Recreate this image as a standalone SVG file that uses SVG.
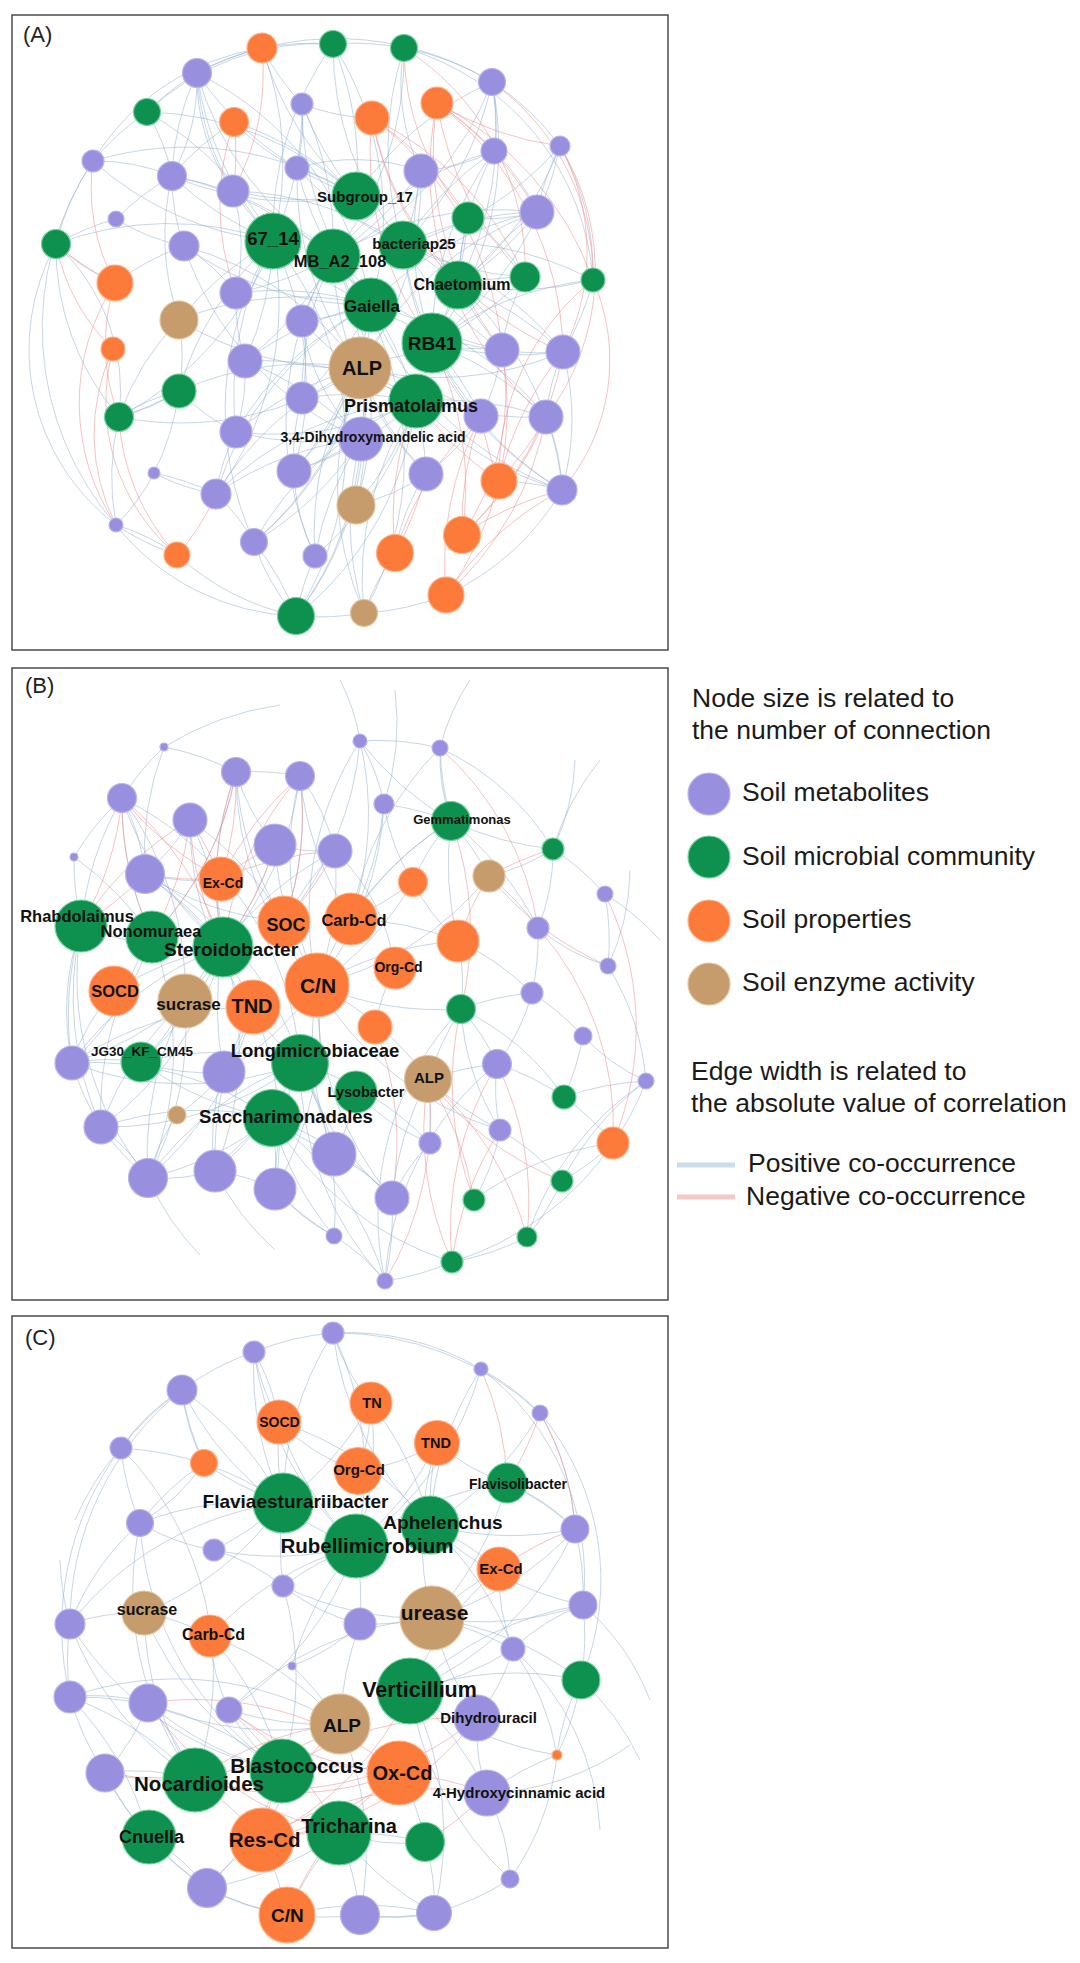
<svg xmlns="http://www.w3.org/2000/svg" width="1080" height="1963" viewBox="0 0 1080 1963">
<style>
.frame{fill:#fff;stroke:#555;stroke-width:1.6}
.plab{font-family:"Liberation Sans",Arial,sans-serif;font-size:22px;fill:#222}
.pos path,.pos{fill:none;stroke:#8eaecb;stroke-opacity:.5;stroke-width:1}
.neg path,.neg{fill:none;stroke:#ec8f8f;stroke-opacity:.55;stroke-width:1}
.m{fill:#9890de;stroke:#b9b3ee;stroke-width:1.2}
.g{fill:#0e914f;stroke:#72d39c;stroke-width:1.2}
.o{fill:#fc7a3a;stroke:#ffb088;stroke-width:1.2}
.t{fill:#c69c6c;stroke:#e2c39d;stroke-width:1.2}
.nodes text{font-family:"Liberation Sans",Arial,sans-serif;font-weight:bold;fill:#111;text-anchor:middle}
.leg{font-family:"Liberation Sans",Arial,sans-serif;font-size:26.5px;fill:#1a1a1a}
</style>
<rect width="1080" height="1963" fill="#fff"/>

<!-- ================= PANEL A ================= -->
<g id="panelA">
<rect class="frame" x="12" y="15" width="656" height="635"/>
<text class="plab" x="23" y="42">(A)</text>
<g id="edgesA">
<path class="pos" d="M273 241A320 320 0 0 1 197 73M273 241A320 320 0 0 0 147 112M273 241A320 320 0 0 1 93 161M273 241A320 320 0 0 0 56 244M273 241A320 320 0 0 1 172 176M273 241A320 320 0 0 0 179 320M273 241A320 320 0 0 1 245 361M273 241A320 320 0 0 0 179 391M273 241A320 320 0 0 1 119 417M273 241A320 320 0 0 0 236 432M273 241A320 320 0 0 1 294 471M273 241A320 320 0 0 0 254 542M273 241A320 320 0 0 1 296 616M273 241A320 320 0 0 0 262 48M273 241A320 320 0 0 1 333 44M273 241A320 320 0 0 0 302 104M273 241A320 320 0 0 1 216 494"/>
<path class="pos" d="M333 256A320 320 0 0 0 302 104M333 256A320 320 0 0 1 297 168M333 256A320 320 0 0 0 421 171M333 256A320 320 0 0 1 494 151M333 256A320 320 0 0 0 492 82M333 256A320 320 0 0 1 236 293M333 256A320 320 0 0 0 302 321M333 256A320 320 0 0 1 245 361M333 256A320 320 0 0 0 302 398M333 256A320 320 0 0 1 361 439M333 256A320 320 0 0 0 426 474M333 256A320 320 0 0 1 356 505M333 256A320 320 0 0 0 315 556M333 256A320 320 0 0 1 364 613M333 256A320 320 0 0 0 172 176M333 256A320 320 0 0 1 197 73M333 256A320 320 0 0 0 404 48M333 256A320 320 0 0 1 537 212M333 256A320 320 0 0 0 502 350"/>
<path class="pos" d="M403 245A320 320 0 0 1 404 48M403 245A320 320 0 0 0 492 82M403 245A320 320 0 0 1 494 151M403 245A320 320 0 0 0 560 146M403 245A320 320 0 0 1 537 212M403 245A320 320 0 0 0 525 277M403 245A320 320 0 0 1 593 280M403 245A320 320 0 0 0 502 350M403 245A320 320 0 0 1 563 352M403 245A320 320 0 0 0 481 416M403 245A320 320 0 0 1 546 417M403 245A320 320 0 0 0 421 171M403 245A320 320 0 0 1 297 168M403 245A320 320 0 0 0 233 191M403 245A320 320 0 0 1 333 44M403 245A320 320 0 0 0 562 490"/>
<path class="pos" d="M371 305A320 320 0 0 1 233 191M371 305A320 320 0 0 0 236 293M371 305A320 320 0 0 1 302 321M371 305A320 320 0 0 0 245 361M371 305A320 320 0 0 1 302 398M371 305A320 320 0 0 0 236 432M371 305A320 320 0 0 1 294 471M371 305A320 320 0 0 0 172 176M371 305A320 320 0 0 1 184 246M371 305A320 320 0 0 0 197 73M371 305A320 320 0 0 1 302 104M371 305A320 320 0 0 0 333 44M371 305A320 320 0 0 1 537 212M371 305A320 320 0 0 0 563 352M371 305A320 320 0 0 1 546 417M371 305A320 320 0 0 0 562 490M371 305A320 320 0 0 1 426 474M371 305A320 320 0 0 0 216 494M371 305A320 320 0 0 1 254 542M371 305A320 320 0 0 0 179 320"/>
<path class="pos" d="M360 368A320 320 0 0 0 184 246M360 368A320 320 0 0 1 179 320M360 368A320 320 0 0 0 179 391M360 368A320 320 0 0 1 119 417M360 368A320 320 0 0 0 236 432M360 368A320 320 0 0 1 294 471M360 368A320 320 0 0 0 216 494M360 368A320 320 0 0 1 254 542M360 368A320 320 0 0 0 315 556M360 368A320 320 0 0 1 296 616M360 368A320 320 0 0 0 364 613M360 368A320 320 0 0 1 356 505M360 368A320 320 0 0 0 426 474M360 368A320 320 0 0 1 481 416M360 368A320 320 0 0 0 546 417M360 368A320 320 0 0 1 502 350M360 368A320 320 0 0 0 563 352M360 368A320 320 0 0 1 537 212M360 368A320 320 0 0 0 421 171M360 368A320 320 0 0 1 297 168"/>
<path class="pos" d="M432 343A320 320 0 0 1 494 151M432 343A320 320 0 0 0 560 146M432 343A320 320 0 0 1 537 212M432 343A320 320 0 0 0 525 277M432 343A320 320 0 0 1 593 280M432 343A320 320 0 0 0 563 352M432 343A320 320 0 0 1 546 417M432 343A320 320 0 0 0 562 490M432 343A320 320 0 0 1 481 416M432 343A320 320 0 0 0 492 82M432 343A320 320 0 0 1 421 171M432 343A320 320 0 0 0 468 218"/>
<path class="pos" d="M416 401A320 320 0 0 1 302 321M416 401A320 320 0 0 0 302 398M416 401A320 320 0 0 1 294 471M416 401A320 320 0 0 0 216 494M416 401A320 320 0 0 1 315 556M416 401A320 320 0 0 0 254 542M416 401A320 320 0 0 1 296 616M416 401A320 320 0 0 0 364 613M416 401A320 320 0 0 1 356 505M416 401A320 320 0 0 0 245 361M416 401A320 320 0 0 1 236 432M416 401A320 320 0 0 0 562 490M416 401A320 320 0 0 1 546 417"/>
<path class="pos" d="M356 196A320 320 0 0 1 262 48M356 196A320 320 0 0 0 333 44M356 196A320 320 0 0 1 197 73M356 196A320 320 0 0 0 234 122M356 196A320 320 0 0 1 302 104M356 196A320 320 0 0 0 93 161M356 196A320 320 0 0 1 172 176M356 196A320 320 0 0 0 297 168M356 196A320 320 0 0 1 233 191M356 196A320 320 0 0 0 147 112M356 196A320 320 0 0 1 492 82"/>
<path class="pos" d="M458 285A320 320 0 0 0 492 82M458 285A320 320 0 0 1 494 151M458 285A320 320 0 0 0 560 146M458 285A320 320 0 0 1 468 218M458 285A320 320 0 0 0 537 212M458 285A320 320 0 0 1 525 277M458 285A320 320 0 0 0 593 280M458 285A320 320 0 0 1 563 352M458 285A320 320 0 0 0 502 350"/>
<path class="pos" d="M361 439A320 320 0 0 1 236 432M361 439A320 320 0 0 0 216 494M361 439A320 320 0 0 1 254 542M361 439A320 320 0 0 0 315 556M361 439A320 320 0 0 1 296 616M361 439A320 320 0 0 0 364 613M361 439A320 320 0 0 1 294 471M361 439A320 320 0 0 0 245 361M361 439A320 320 0 0 1 184 246"/>
<path class="pos" d="M197 73A200 200 0 0 1 172 176M197 73A200 200 0 0 0 233 191M147 112A200 200 0 0 1 172 176M234 122A200 200 0 0 0 297 168M302 104A200 200 0 0 1 297 168M93 161A200 200 0 0 1 172 176M172 176A200 200 0 0 0 184 246M116 219A200 200 0 0 0 184 246M233 191A200 200 0 0 1 236 293M184 246A200 200 0 0 1 236 293M236 293A200 200 0 0 0 245 361M179 320A200 200 0 0 1 179 391M245 361A200 200 0 0 1 236 432M179 391A200 200 0 0 0 236 432M119 417A200 200 0 0 1 179 391M236 432A200 200 0 0 0 216 494M216 494A200 200 0 0 1 254 542M294 471A200 200 0 0 0 315 556M254 542A200 200 0 0 0 296 616M154 473A200 200 0 0 0 216 494M116 525A200 200 0 0 1 177 555M302 321A200 200 0 0 1 302 398M302 398A200 200 0 0 0 294 471M297 168A200 200 0 0 1 421 171M421 171A200 200 0 0 0 494 151M494 151A200 200 0 0 1 537 212M468 218A200 200 0 0 0 537 212M468 218A200 200 0 0 1 525 277M525 277A200 200 0 0 0 502 350M502 350A200 200 0 0 1 481 416M563 352A200 200 0 0 0 546 417M481 416A200 200 0 0 1 426 474M426 474A200 200 0 0 0 395 553M546 417A200 200 0 0 1 562 490M302 104A200 200 0 0 0 372 118M404 48A200 200 0 0 0 421 171M492 82A200 200 0 0 1 494 151M56 244A200 200 0 0 1 119 417M119 417A200 200 0 0 0 179 391M154 473A200 200 0 0 1 116 525M302 321A200 200 0 0 0 361 439M426 474A200 200 0 0 1 356 505"/>
<path class="pos" d="M197 73A260 260 0 0 1 262 48M197 73A260 260 0 0 0 147 112M147 112A260 260 0 0 0 93 161M93 161A260 260 0 0 0 56 244M56 244A260 260 0 0 0 115 283M56 244A260 260 0 0 0 119 417M119 417A260 260 0 0 0 116 525M116 525A260 260 0 0 0 177 555M177 555A260 260 0 0 0 296 616M296 616A260 260 0 0 0 364 613M364 613A260 260 0 0 0 446 595M262 48A260 260 0 0 1 333 44M333 44A260 260 0 0 1 404 48M404 48A260 260 0 0 1 492 82M492 82A260 260 0 0 1 560 146M560 146A260 260 0 0 1 593 280M593 280A260 260 0 0 1 563 352M563 352A260 260 0 0 1 562 490M562 490A260 260 0 0 1 446 595M197 73A300 300 0 0 1 492 82M93 161A300 300 0 0 0 116 525M116 219A260 260 0 0 0 56 244M116 219A260 260 0 0 1 172 176M184 246A260 260 0 0 0 115 283M179 391A260 260 0 0 1 119 417M154 473A260 260 0 0 1 216 494M154 473A260 260 0 0 0 179 391M254 542A260 260 0 0 1 296 616M315 556A260 260 0 0 0 296 616M395 553A260 260 0 0 0 364 613M499 481A260 260 0 0 1 562 490M546 417A260 260 0 0 1 562 490M537 212A260 260 0 0 1 560 146M172 176A260 260 0 0 1 197 73M233 191A260 260 0 0 1 197 73M302 104A260 260 0 0 1 262 48M234 122A260 260 0 0 0 172 176M56 244A220 220 0 0 0 116 525M116 525A240 240 0 0 0 296 616M404 48A260 260 0 0 1 593 280M147 112A250 250 0 0 1 333 44M93 161A240 240 0 0 1 262 48M179 320A260 260 0 0 0 119 417M179 320A260 260 0 0 1 172 176"/>
<path class="neg" d="M372 118A320 320 0 0 1 468 218M372 118A320 320 0 0 0 458 285M372 118A320 320 0 0 1 525 277M372 118A320 320 0 0 0 432 343M372 118A320 320 0 0 1 502 350M372 118A320 320 0 0 0 563 352M437 103A320 320 0 0 1 494 151M437 103A320 320 0 0 0 560 146M437 103A320 320 0 0 1 537 212M437 103A320 320 0 0 0 525 277M437 103A320 320 0 0 1 593 280M437 103A320 320 0 0 0 502 350M437 103A320 320 0 0 1 563 352M437 103A320 320 0 0 0 546 417M499 481A320 320 0 0 1 481 416M499 481A320 320 0 0 0 546 417M499 481A320 320 0 0 1 563 352M499 481A320 320 0 0 0 502 350M499 481A320 320 0 0 1 416 401M462 535A320 320 0 0 0 546 417M462 535A320 320 0 0 1 562 490M462 535A320 320 0 0 0 563 352M462 535A320 320 0 0 1 481 416M462 535A320 320 0 0 0 432 343M446 595A320 320 0 0 1 562 490M446 595A320 320 0 0 0 546 417M446 595A320 320 0 0 1 481 416M446 595A320 320 0 0 0 499 481M395 553A320 320 0 0 1 481 416M395 553A320 320 0 0 0 426 474M395 553A320 320 0 0 1 416 401M115 283A200 200 0 0 0 119 417M115 283A220 220 0 0 0 116 525M115 283A200 200 0 0 1 93 161M115 283A200 200 0 0 1 56 244M113 349A200 200 0 0 0 116 525M113 349A200 200 0 0 1 56 244M113 349A200 200 0 0 0 177 555M177 555A220 220 0 0 1 119 417M177 555A220 220 0 0 0 216 494M262 48A250 250 0 0 1 233 191M234 122A250 250 0 0 1 233 191M234 122A250 250 0 0 0 236 293M593 280A200 200 0 0 1 562 490M560 146A220 220 0 0 1 563 352M560 146A240 240 0 0 1 546 417M492 82A240 240 0 0 1 593 280M404 48A260 260 0 0 1 525 277M404 48A260 260 0 0 0 468 218M462 535A250 250 0 0 0 502 350M499 481A250 250 0 0 1 593 280"/>
</g>
<g class="nodes">
<g id="a01"><circle class="o" cx="262" cy="48" r="15"/></g>
<g id="a02"><circle class="g" cx="333" cy="44" r="13.5"/></g>
<g id="a03"><circle class="g" cx="404" cy="48" r="13.5"/></g>
<g id="a04"><circle class="m" cx="197" cy="73" r="14.5"/></g>
<g id="a05"><circle class="g" cx="147" cy="112" r="13.5"/></g>
<g id="a06"><circle class="o" cx="234" cy="122" r="14.5"/></g>
<g id="a07"><circle class="m" cx="302" cy="104" r="11"/></g>
<g id="a08"><circle class="o" cx="372" cy="118" r="17"/></g>
<g id="a09"><circle class="o" cx="437" cy="103" r="16"/></g>
<g id="a10"><circle class="m" cx="492" cy="82" r="13.5"/></g>
<g id="a11"><circle class="m" cx="93" cy="161" r="11"/></g>
<g id="a12"><circle class="m" cx="172" cy="176" r="14.5"/></g>
<g id="a13"><circle class="m" cx="297" cy="168" r="12"/></g>
<g id="a14"><circle class="m" cx="233" cy="191" r="16"/></g>
<g id="a16"><circle class="m" cx="421" cy="171" r="17"/></g>
<g id="a17"><circle class="m" cx="494" cy="151" r="13"/></g>
<g id="a18"><circle class="m" cx="560" cy="146" r="10"/></g>
<g id="a19"><circle class="g" cx="468" cy="218" r="16"/></g>
<g id="a20"><circle class="m" cx="537" cy="212" r="17"/></g>
<g id="a21"><circle class="m" cx="116" cy="219" r="8"/></g>
<g id="a22"><circle class="g" cx="56" cy="244" r="14.5"/></g>
<g id="a23"><circle class="m" cx="184" cy="246" r="15"/></g>
<g id="a15"><circle class="g" cx="356" cy="196" r="24"/><text x="365" y="202" font-size="15">Subgroup_17</text></g>
<g id="a24"><circle class="g" cx="273" cy="241" r="28"/><text x="273" y="245" font-size="18.5">67_14</text></g>
<g id="a26"><circle class="g" cx="403" cy="245" r="24"/><text x="414" y="249" font-size="15">bacteriap25</text></g>
<g id="a25"><circle class="g" cx="333" cy="256" r="27"/><text x="340" y="267" font-size="16.5">MB_A2_108</text></g>
<g id="a27"><circle class="o" cx="115" cy="283" r="18"/></g>
<g id="a28"><circle class="m" cx="236" cy="293" r="16"/></g>
<g id="a29"><circle class="t" cx="179" cy="320" r="19"/></g>
<g id="a30"><circle class="m" cx="302" cy="321" r="16"/></g>
<g id="a33"><circle class="g" cx="525" cy="277" r="15"/></g>
<g id="a34"><circle class="g" cx="593" cy="280" r="12"/></g>
<g id="a32"><circle class="g" cx="458" cy="285" r="24"/><text x="462" y="290" font-size="16">Chaetomium</text></g>
<g id="a31"><circle class="g" cx="371" cy="305" r="27"/><text x="372" y="312" font-size="17">Gaiella</text></g>
<g id="a35"><circle class="o" cx="113" cy="349" r="12"/></g>
<g id="a36"><circle class="m" cx="245" cy="361" r="17"/></g>
<g id="a39"><circle class="m" cx="502" cy="350" r="17"/></g>
<g id="a40"><circle class="m" cx="563" cy="352" r="17"/></g>
<g id="a38"><circle class="g" cx="432" cy="343" r="30"/><text x="432" y="350" font-size="19">RB41</text></g>
<g id="a41"><circle class="g" cx="179" cy="391" r="17"/></g>
<g id="a42"><circle class="m" cx="302" cy="398" r="16"/></g>
<g id="a44"><circle class="m" cx="481" cy="416" r="17"/></g>
<g id="a45"><circle class="m" cx="546" cy="417" r="17"/></g>
<g id="a46"><circle class="g" cx="119" cy="417" r="14.5"/></g>
<g id="a47"><circle class="m" cx="236" cy="432" r="16"/></g>
<g id="a48"><circle class="m" cx="361" cy="439" r="22"/></g>
<g id="a37"><circle class="t" cx="360" cy="368" r="31"/><text x="362" y="375" font-size="20">ALP</text></g>
<g id="a43"><circle class="g" cx="416" cy="401" r="27"/><text x="411" y="412" font-size="18">Prismatolaimus</text></g>
<g id="a48l"><text x="373" y="442" font-size="14">3,4-Dihydroxymandelic acid</text></g>
<g id="a49"><circle class="m" cx="154" cy="473" r="6"/></g>
<g id="a50"><circle class="m" cx="294" cy="471" r="17"/></g>
<g id="a51"><circle class="m" cx="426" cy="474" r="17"/></g>
<g id="a52"><circle class="o" cx="499" cy="481" r="18"/></g>
<g id="a53"><circle class="m" cx="562" cy="490" r="15"/></g>
<g id="a54"><circle class="m" cx="216" cy="494" r="15"/></g>
<g id="a55"><circle class="t" cx="356" cy="505" r="19"/></g>
<g id="a56"><circle class="m" cx="116" cy="525" r="7"/></g>
<g id="a57"><circle class="m" cx="254" cy="542" r="13.5"/></g>
<g id="a58"><circle class="o" cx="177" cy="555" r="13"/></g>
<g id="a59"><circle class="m" cx="315" cy="556" r="12"/></g>
<g id="a60"><circle class="o" cx="395" cy="553" r="18.5"/></g>
<g id="a61"><circle class="o" cx="462" cy="535" r="18.5"/></g>
<g id="a62"><circle class="o" cx="446" cy="595" r="18"/></g>
<g id="a63"><circle class="g" cx="296" cy="616" r="18.5"/></g>
<g id="a64"><circle class="t" cx="364" cy="613" r="13.5"/></g>
</g>
</g>

<!-- ================= PANEL B ================= -->
<g id="panelB">
<rect class="frame" x="12" y="668" width="656" height="632"/>
<text class="plab" x="25" y="693">(B)</text>
<g id="edgesB">
<path class="pos" d="M223 947A320 320 0 0 1 122 798M223 947A320 320 0 0 0 190 820M223 947A320 320 0 0 1 236 772M223 947A320 320 0 0 0 145 874M223 947A320 320 0 0 1 81 926M223 947A320 320 0 0 0 114 991M223 947A320 320 0 0 1 185 1001M223 947A320 320 0 0 0 72 1063M223 947A320 320 0 0 1 141 1062M223 947A320 320 0 0 0 224 1072M223 947A320 320 0 0 1 101 1127M223 947A320 320 0 0 0 148 1178M223 947A320 320 0 0 1 215 1171M223 947A320 320 0 0 0 275 845M223 947A320 320 0 0 1 335 851M223 947A320 320 0 0 0 300 776"/>
<path class="pos" d="M317 985A320 320 0 0 1 275 845M317 985A320 320 0 0 0 335 851M317 985A320 320 0 0 1 300 776M317 985A320 320 0 0 0 384 804M317 985A320 320 0 0 1 360 741M317 985A320 320 0 0 0 413 882M317 985A320 320 0 0 1 458 941M317 985A320 320 0 0 0 461 1009M317 985A320 320 0 0 1 224 1072M317 985A320 320 0 0 0 334 1154M317 985A320 320 0 0 1 275 1189M317 985A320 320 0 0 0 392 1198M317 985A320 320 0 0 1 428 1079M317 985A320 320 0 0 0 489 876M317 985A320 320 0 0 1 451 821M317 985A320 320 0 0 0 500 1130M317 985A320 320 0 0 1 236 772"/>
<path class="pos" d="M300 1063A320 320 0 0 1 72 1063M300 1063A320 320 0 0 0 141 1062M300 1063A320 320 0 0 1 101 1127M300 1063A320 320 0 0 0 148 1178M300 1063A320 320 0 0 1 215 1171M300 1063A320 320 0 0 0 275 1189M300 1063A320 320 0 0 1 334 1154M300 1063A320 320 0 0 0 392 1198M300 1063A320 320 0 0 1 334 1236M300 1063A320 320 0 0 0 145 874M300 1063A320 320 0 0 1 190 820M300 1063A320 320 0 0 0 385 1281M300 1063A320 320 0 0 1 430 1143M300 1063A320 320 0 0 0 122 798"/>
<path class="pos" d="M272 1118A320 320 0 0 0 101 1127M272 1118A320 320 0 0 1 148 1178M272 1118A320 320 0 0 0 215 1171M272 1118A320 320 0 0 1 275 1189M272 1118A320 320 0 0 0 334 1154M272 1118A320 320 0 0 1 392 1198M272 1118A320 320 0 0 0 334 1236M272 1118A320 320 0 0 1 385 1281M272 1118A320 320 0 0 0 72 1063M272 1118A320 320 0 0 1 141 1062M272 1118A320 320 0 0 0 452 1262"/>
<path class="pos" d="M284 922A320 320 0 0 1 236 772M284 922A320 320 0 0 0 300 776M284 922A320 320 0 0 1 335 851M284 922A320 320 0 0 0 190 820M284 922A320 320 0 0 1 145 874M284 922A320 320 0 0 0 360 741M351 919A320 320 0 0 1 300 776M351 919A320 320 0 0 0 384 804M351 919A320 320 0 0 1 451 821M351 919A320 320 0 0 0 413 882M351 919A320 320 0 0 1 458 941M351 919A320 320 0 0 0 360 741M351 919A320 320 0 0 1 440 748M253 1007A320 320 0 0 0 145 874M253 1007A320 320 0 0 1 224 1072M253 1007A320 320 0 0 0 215 1171M253 1007A320 320 0 0 1 275 1189M253 1007A320 320 0 0 0 72 1063M253 1007A320 320 0 0 1 148 1178M185 1001A320 320 0 0 1 72 1063M185 1001A320 320 0 0 0 101 1127M185 1001A320 320 0 0 1 148 1178M185 1001A320 320 0 0 0 122 798"/>
<path class="pos" d="M152 937A320 320 0 0 1 122 798M152 937A320 320 0 0 0 74 857M152 937A320 320 0 0 1 72 1063M152 937A320 320 0 0 0 101 1127M152 937A320 320 0 0 1 148 1178M152 937A320 320 0 0 0 236 772M81 926A320 320 0 0 1 74 857M81 926A320 320 0 0 1 122 798M81 926A320 320 0 0 0 72 1063M81 926A320 320 0 0 0 101 1127M81 926A320 320 0 0 0 148 1178M451 821A320 320 0 0 1 440 748M451 821A320 320 0 0 0 553 849M451 821A320 320 0 0 1 489 876M451 821A320 320 0 0 0 458 941M451 821A320 320 0 0 1 538 928M451 821A320 320 0 0 0 384 804M451 821A320 320 0 0 1 360 741M428 1079A320 320 0 0 1 497 1064M428 1079A320 320 0 0 0 500 1130M428 1079A320 320 0 0 1 430 1143M428 1079A320 320 0 0 0 392 1198M428 1079A320 320 0 0 1 461 1009"/>
<path class="pos" d="M236 772A200 200 0 0 0 275 845M300 776A200 200 0 0 1 335 851M275 845A200 200 0 0 0 335 851M190 820A200 200 0 0 1 145 874M145 874A200 200 0 0 0 221 879M122 798A200 200 0 0 1 145 874M384 804A200 200 0 0 0 413 882M335 851A200 200 0 0 1 395 968M413 882A200 200 0 0 0 458 941M458 941A200 200 0 0 1 461 1009M395 968A200 200 0 0 0 375 1027M461 1009A200 200 0 0 1 497 1064M497 1064A200 200 0 0 0 500 1130M500 1130A200 200 0 0 1 474 1200M430 1143A200 200 0 0 0 392 1198M334 1154A200 200 0 0 1 392 1198M224 1072A200 200 0 0 0 215 1171M101 1127A200 200 0 0 1 148 1178M148 1178A200 200 0 0 0 215 1171M215 1171A200 200 0 0 1 275 1189M275 1189A200 200 0 0 0 334 1236M334 1236A200 200 0 0 1 385 1281M356 1092A200 200 0 0 0 430 1143M356 1092A200 200 0 0 1 334 1154M224 1072A200 200 0 0 1 177 1115M177 1115A200 200 0 0 0 148 1178M451 821A200 200 0 0 0 413 882M553 849A200 200 0 0 1 538 928M538 928A200 200 0 0 0 608 966M532 993A200 200 0 0 1 497 1064M583 1036A200 200 0 0 0 646 1081M489 876A200 200 0 0 0 553 849M360 741A200 200 0 0 1 384 804M440 748A200 200 0 0 0 451 821M72 1063A200 200 0 0 1 141 1062M141 1062A200 200 0 0 0 224 1072M114 991A200 200 0 0 0 72 1063M185 1001A200 200 0 0 1 141 1062"/>
<path class="pos" d="M553 849A260 260 0 0 1 605 894M605 894A260 260 0 0 1 608 966M608 966A260 260 0 0 1 646 1081M646 1081A260 260 0 0 1 613 1143M613 1143A260 260 0 0 1 562 1181M562 1181A260 260 0 0 1 527 1237M527 1237A260 260 0 0 1 452 1262M452 1262A260 260 0 0 1 385 1281M538 928A260 260 0 0 1 532 993M532 993A260 260 0 0 1 583 1036M583 1036A260 260 0 0 1 564 1097M564 1097A260 260 0 0 1 613 1143M497 1064A260 260 0 0 1 564 1097M500 1130A260 260 0 0 1 562 1181M489 876A260 260 0 0 1 538 928M458 941A260 260 0 0 1 532 993M646 1081A300 300 0 0 0 562 1181M646 1081A300 300 0 0 0 527 1237M646 1081A300 300 0 0 0 564 1097M613 1143A300 300 0 0 0 474 1200M613 1143A300 300 0 0 1 452 1262M385 1281A300 300 0 0 1 461 1009M385 1281A300 300 0 0 1 497 1064M385 1281A300 300 0 0 0 392 1198M334 1236A260 260 0 0 1 275 1189M148 1178A260 260 0 0 1 101 1127M101 1127A260 260 0 0 1 72 1063M72 1063A260 260 0 0 1 81 926M74 857A260 260 0 0 1 122 798M122 798A260 260 0 0 1 164 747M164 747A260 260 0 0 1 236 772M236 772A260 260 0 0 1 300 776M360 741A260 260 0 0 1 440 748M440 748A260 260 0 0 1 553 849M164 747A300 300 0 0 0 145 874M461 1009A260 260 0 0 1 532 993M461 1009A260 260 0 0 1 564 1097M461 1009A260 260 0 0 0 500 1130M360 741A200 200 0 0 0 340 680M384 804A260 260 0 0 0 395 690M440 748A220 220 0 0 1 470 680M553 849A220 220 0 0 0 575 760M608 966A230 230 0 0 0 630 870M605 894A260 260 0 0 1 660 940M164 747A300 300 0 0 1 280 705M553 849A260 260 0 0 1 600 760M148 1178A260 260 0 0 0 200 1255M215 1171A260 260 0 0 0 275 1250"/>
<path class="neg" d="M122 798A320 320 0 0 1 81 926M122 798A320 320 0 0 0 152 937M122 798A320 320 0 0 1 223 947M122 798A320 320 0 0 0 221 879M190 820A320 320 0 0 1 152 937M190 820A320 320 0 0 0 223 947M190 820A320 320 0 0 1 221 879M190 820A320 320 0 0 0 81 926M236 772A320 320 0 0 1 221 879M236 772A320 320 0 0 0 223 947M236 772A320 320 0 0 1 152 937M300 776A320 320 0 0 0 221 879M300 776A320 320 0 0 1 284 922M300 776A320 320 0 0 0 223 947M275 845A320 320 0 0 1 223 947M275 845A320 320 0 0 0 221 879M335 851A320 320 0 0 1 284 922M335 851A320 320 0 0 0 221 879M145 874A320 320 0 0 1 81 926M145 874A320 320 0 0 0 221 879M428 1079A320 320 0 0 1 474 1200M428 1079A320 320 0 0 0 452 1262M428 1079A320 320 0 0 1 527 1237M428 1079A320 320 0 0 0 562 1181M428 1079A320 320 0 0 1 385 1281M489 876A320 320 0 0 0 458 941M489 876A320 320 0 0 1 553 849M489 876A320 320 0 0 0 608 966M451 821A320 320 0 0 1 461 1009M461 1009A320 320 0 0 0 474 1200M497 1064A320 320 0 0 1 527 1237M497 1064A320 320 0 0 0 452 1262M375 1027A320 320 0 0 1 392 1198M500 1130A320 320 0 0 0 452 1262M440 748A300 300 0 0 1 538 928M605 894A300 300 0 0 1 613 1143M538 928A300 300 0 0 1 613 1143"/>
</g>
<g class="nodes">
<g id="b01"><circle class="m" cx="164" cy="747" r="4"/></g>
<g id="b02"><circle class="m" cx="236" cy="772" r="14.5"/></g>
<g id="b03"><circle class="m" cx="300" cy="776" r="14.5"/></g>
<g id="b04"><circle class="m" cx="360" cy="741" r="7"/></g>
<g id="b05"><circle class="m" cx="440" cy="748" r="8"/></g>
<g id="b06"><circle class="m" cx="122" cy="798" r="14.5"/></g>
<g id="b07"><circle class="m" cx="190" cy="820" r="17"/></g>
<g id="b08"><circle class="m" cx="384" cy="804" r="10"/></g>
<g id="b10"><circle class="m" cx="74" cy="857" r="4"/></g>
<g id="b11"><circle class="m" cx="275" cy="845" r="21"/></g>
<g id="b12"><circle class="m" cx="335" cy="851" r="17"/></g>
<g id="b13"><circle class="g" cx="553" cy="849" r="11"/></g>
<g id="b14"><circle class="m" cx="145" cy="874" r="19.5"/></g>
<g id="b16"><circle class="o" cx="413" cy="882" r="14.5"/></g>
<g id="b17"><circle class="t" cx="489" cy="876" r="16"/></g>
<g id="b18"><circle class="m" cx="605" cy="894" r="8"/></g>
<g id="b09"><circle class="g" cx="451" cy="821" r="19.5"/><text x="462" y="824" font-size="13">Gemmatimonas</text></g>
<g id="b15"><circle class="o" cx="221" cy="879" r="22"/><text x="223" y="888" font-size="14">Ex-Cd</text></g>
<g id="b24"><circle class="o" cx="458" cy="941" r="21"/></g>
<g id="b25"><circle class="m" cx="538" cy="928" r="11"/></g>
<g id="b26"><circle class="m" cx="608" cy="966" r="8"/></g>
<g id="b19"><circle class="g" cx="81" cy="926" r="26"/></g>
<g id="b20"><circle class="g" cx="152" cy="937" r="26"/></g>
<g id="b22"><circle class="o" cx="284" cy="922" r="26"/></g>
<g id="b21"><circle class="g" cx="223" cy="947" r="30"/></g>
<g id="b23"><circle class="o" cx="351" cy="919" r="26"/><text x="354" y="926" font-size="16.5">Carb-Cd</text></g>
<g id="b19l"><text x="77" y="922" font-size="16.5">Rhabdolaimus</text></g>
<g id="b20l"><text x="151" y="937" font-size="16.5">Nonomuraea</text></g>
<g id="b22l"><text x="286" y="931" font-size="18">SOC</text></g>
<g id="b21l"><text x="231" y="956" font-size="19">Steroidobacter</text></g>
<g id="b27"><circle class="o" cx="395" cy="968" r="21"/><text x="398.5" y="972" font-size="14">Org-Cd</text></g>
<g id="b28"><circle class="o" cx="114" cy="991" r="25"/><text x="115" y="997" font-size="16.5">SOCD</text></g>
<g id="b29"><circle class="t" cx="185" cy="1001" r="27"/></g>
<g id="b30"><circle class="o" cx="253" cy="1007" r="27"/></g>
<g id="b29l"><text x="188.5" y="1010" font-size="17">sucrase</text></g>
<g id="b30l"><text x="252" y="1013" font-size="20">TND</text></g>
<g id="b31"><circle class="o" cx="317" cy="985" r="32"/><text x="318" y="993" font-size="21">C/N</text></g>
<g id="b32"><circle class="m" cx="532" cy="993" r="11"/></g>
<g id="b33"><circle class="g" cx="461" cy="1009" r="14.5"/></g>
<g id="b34"><circle class="o" cx="375" cy="1027" r="17"/></g>
<g id="b35"><circle class="m" cx="583" cy="1036" r="9"/></g>
<g id="b36"><circle class="m" cx="72" cy="1063" r="17"/></g>
<g id="b38"><circle class="m" cx="224" cy="1072" r="21"/></g>
<g id="b37"><circle class="g" cx="141" cy="1062" r="20"/><text x="142" y="1056" font-size="13.5">JG30_KF_CM45</text></g>
<g id="b39"><circle class="g" cx="300" cy="1063" r="28.5"/><text x="315" y="1057" font-size="18.5">Longimicrobiaceae</text></g>
<g id="b40"><circle class="m" cx="497" cy="1064" r="14.5"/></g>
<g id="b42"><circle class="m" cx="646" cy="1081" r="8"/></g>
<g id="b43"><circle class="g" cx="356" cy="1092" r="21"/></g>
<g id="b41"><circle class="t" cx="428" cy="1079" r="23.5"/><text x="429" y="1083" font-size="15">ALP</text></g>
<g id="b43l"><text x="366" y="1097" font-size="14.5">Lysobacter</text></g>
<g id="b44"><circle class="g" cx="564" cy="1097" r="12"/></g>
<g id="b46"><circle class="t" cx="177" cy="1115" r="9"/></g>
<g id="b47"><circle class="m" cx="101" cy="1127" r="17"/></g>
<g id="b45"><circle class="g" cx="272" cy="1118" r="28.5"/><text x="286" y="1123" font-size="18.5">Saccharimonadales</text></g>
<g id="b48"><circle class="m" cx="500" cy="1130" r="11"/></g>
<g id="b49"><circle class="m" cx="430" cy="1143" r="11"/></g>
<g id="b50"><circle class="o" cx="613" cy="1143" r="16"/></g>
<g id="b51"><circle class="m" cx="334" cy="1154" r="22"/></g>
<g id="b52"><circle class="m" cx="148" cy="1178" r="19.5"/></g>
<g id="b53"><circle class="m" cx="215" cy="1171" r="21"/></g>
<g id="b54"><circle class="m" cx="275" cy="1189" r="21"/></g>
<g id="b55"><circle class="m" cx="392" cy="1198" r="17"/></g>
<g id="b56"><circle class="g" cx="474" cy="1200" r="11"/></g>
<g id="b57"><circle class="g" cx="562" cy="1181" r="11"/></g>
<g id="b58"><circle class="m" cx="334" cy="1236" r="8"/></g>
<g id="b59"><circle class="g" cx="527" cy="1237" r="10"/></g>
<g id="b60"><circle class="g" cx="452" cy="1262" r="11"/></g>
<g id="b61"><circle class="m" cx="385" cy="1281" r="8"/></g>
</g>
</g>

<!-- ================= LEGEND ================= -->
<g id="legend">
<text class="leg" x="692" y="707">Node size is related to</text>
<text class="leg" x="692" y="739">the number of connection</text>
<g id="leg-metab"><circle class="m" cx="709" cy="794" r="21"/><text class="leg" x="742" y="801">Soil metabolites</text></g>
<g id="leg-micro"><circle class="g" cx="709" cy="857" r="21"/><text class="leg" x="742" y="865">Soil microbial community</text></g>
<g id="leg-prop"><circle class="o" cx="709" cy="921" r="21"/><text class="leg" x="742" y="928">Soil properties</text></g>
<g id="leg-enz"><circle class="t" cx="709" cy="984" r="21"/><text class="leg" x="742" y="991">Soil enzyme activity</text></g>
<text class="leg" x="691" y="1080">Edge width is related to</text>
<text class="leg" x="691" y="1112">the absolute value of correlation</text>
<g id="leg-pos"><line x1="677" y1="1165" x2="735" y2="1165" stroke="#cddbea" stroke-width="5"/><text class="leg" x="748" y="1172">Positive co-occurrence</text></g>
<g id="leg-neg"><line x1="677" y1="1197" x2="735" y2="1197" stroke="#f5c8c8" stroke-width="5"/><text class="leg" x="746" y="1205">Negative co-occurrence</text></g>
</g>

<!-- ================= PANEL C ================= -->
<g id="panelC">
<rect class="frame" x="12" y="1316" width="656" height="632"/>
<text class="plab" x="25" y="1345">(C)</text>
<g id="edgesC">
<path class="pos" d="M283 1503A320 320 0 0 1 254 1352M283 1503A320 320 0 0 0 182 1390M283 1503A320 320 0 0 1 279 1422M283 1503A320 320 0 0 0 121 1448M283 1503A320 320 0 0 1 204 1463M283 1503A320 320 0 0 0 140 1523M283 1503A320 320 0 0 1 214 1550M283 1503A320 320 0 0 0 283 1586M283 1503A320 320 0 0 1 144 1613M283 1503A320 320 0 0 0 70 1624M283 1503A320 320 0 0 1 333 1333M283 1503A320 320 0 0 0 371 1403"/>
<path class="pos" d="M356 1546A320 320 0 0 0 333 1333M356 1546A320 320 0 0 1 254 1352M356 1546A320 320 0 0 0 371 1403M356 1546A320 320 0 0 1 279 1422M356 1546A320 320 0 0 0 437 1443M356 1546A320 320 0 0 1 507 1483M356 1546A320 320 0 0 0 481 1369M356 1546A320 320 0 0 1 214 1550M356 1546A320 320 0 0 0 283 1586M356 1546A320 320 0 0 1 360 1624M356 1546A320 320 0 0 0 292 1666M356 1546A320 320 0 0 1 229 1710M356 1546A320 320 0 0 0 210 1636M356 1546A320 320 0 0 1 182 1390"/>
<path class="pos" d="M430 1525A320 320 0 0 1 481 1369M430 1525A320 320 0 0 0 540 1413M430 1525A320 320 0 0 1 437 1443M430 1525A320 320 0 0 0 575 1529M430 1525A320 320 0 0 1 499 1569M430 1525A320 320 0 0 0 583 1605M430 1525A320 320 0 0 1 513 1649M430 1525A320 320 0 0 0 371 1403M430 1525A320 320 0 0 1 333 1333M430 1525A320 320 0 0 0 279 1422"/>
<path class="pos" d="M432 1618A320 320 0 0 1 499 1569M432 1618A320 320 0 0 0 583 1605M432 1618A320 320 0 0 1 513 1649M432 1618A320 320 0 0 0 575 1529M432 1618A320 320 0 0 1 581 1680M432 1618A320 320 0 0 0 477 1718M432 1618A320 320 0 0 1 360 1624M432 1618A320 320 0 0 0 507 1483M432 1618A320 320 0 0 1 437 1443M432 1618A320 320 0 0 0 229 1710M432 1618A320 320 0 0 1 283 1586"/>
<path class="pos" d="M410 1691A320 320 0 0 1 583 1605M410 1691A320 320 0 0 0 513 1649M410 1691A320 320 0 0 1 581 1680M410 1691A320 320 0 0 0 557 1755M410 1691A320 320 0 0 1 487 1793M410 1691A320 320 0 0 0 510 1879M410 1691A320 320 0 0 1 499 1569M410 1691A320 320 0 0 0 575 1529M410 1691A320 320 0 0 1 434 1913M340 1724A320 320 0 0 1 360 1624M340 1724A320 320 0 0 0 292 1666M340 1724A320 320 0 0 1 229 1710M340 1724A320 320 0 0 0 210 1636M340 1724A320 320 0 0 1 148 1703M340 1724A320 320 0 0 0 70 1697M340 1724A320 320 0 0 1 360 1915"/>
<path class="pos" d="M282 1771A320 320 0 0 1 70 1624M282 1771A320 320 0 0 0 70 1697M282 1771A320 320 0 0 1 148 1703M282 1771A320 320 0 0 0 229 1710M282 1771A320 320 0 0 1 144 1613M282 1771A320 320 0 0 0 210 1636M282 1771A320 320 0 0 1 140 1523M282 1771A320 320 0 0 0 283 1586M282 1771A320 320 0 0 1 207 1888M195 1780A320 320 0 0 1 70 1624M195 1780A320 320 0 0 0 70 1697M195 1780A320 320 0 0 1 105 1773M195 1780A320 320 0 0 0 148 1703M195 1780A320 320 0 0 1 144 1613M195 1780A320 320 0 0 0 121 1448M195 1780A320 320 0 0 1 140 1523"/>
<path class="pos" d="M149 1837A320 320 0 0 1 105 1773M149 1837A320 320 0 0 0 70 1697M149 1837A320 320 0 0 0 207 1888M339 1833A320 320 0 0 1 207 1888M339 1833A320 320 0 0 0 287 1915M339 1833A320 320 0 0 1 360 1915M339 1833A320 320 0 0 0 434 1913M339 1833A320 320 0 0 1 425 1842M287 1915A320 320 0 0 1 207 1888M287 1915A320 320 0 0 0 360 1915M287 1915A320 320 0 0 1 434 1913M287 1915A320 320 0 0 0 262 1840"/>
<path class="pos" d="M333 1333A200 200 0 0 0 371 1403M254 1352A200 200 0 0 1 279 1422M182 1390A200 200 0 0 0 204 1463M371 1403A200 200 0 0 1 358 1471M279 1422A200 200 0 0 0 358 1471M437 1443A200 200 0 0 1 358 1471M437 1443A200 200 0 0 0 507 1483M204 1463A200 200 0 0 1 140 1523M140 1523A200 200 0 0 0 214 1550M214 1550A200 200 0 0 1 283 1586M283 1586A200 200 0 0 0 360 1624M360 1624A200 200 0 0 1 292 1666M499 1569A200 200 0 0 0 513 1649M513 1649A200 200 0 0 1 477 1718M477 1718A200 200 0 0 0 487 1793M487 1793A200 200 0 0 1 510 1879M581 1680A200 200 0 0 0 557 1755M148 1703A200 200 0 0 1 105 1773M229 1710A200 200 0 0 0 282 1771M105 1773A200 200 0 0 1 195 1780M149 1837A200 200 0 0 1 207 1888M262 1840A200 200 0 0 0 207 1888M339 1833A200 200 0 0 0 425 1842M425 1842A200 200 0 0 1 434 1913M360 1915A200 200 0 0 0 434 1913M399 1773A200 200 0 0 1 425 1842M144 1613A200 200 0 0 0 70 1624M144 1613A200 200 0 0 1 210 1636M210 1636A200 200 0 0 0 229 1710M70 1697A200 200 0 0 1 148 1703M121 1448A200 200 0 0 1 182 1390M507 1483A200 200 0 0 1 575 1529M583 1605A200 200 0 0 0 513 1649"/>
<path class="pos" d="M254 1352A260 260 0 0 1 333 1333M333 1333A260 260 0 0 1 481 1369M481 1369A260 260 0 0 1 540 1413M540 1413A260 260 0 0 1 575 1529M575 1529A260 260 0 0 1 583 1605M583 1605A260 260 0 0 1 581 1680M581 1680A260 260 0 0 1 557 1755M557 1755A260 260 0 0 1 510 1879M510 1879A260 260 0 0 1 434 1913M434 1913A260 260 0 0 1 360 1915M182 1390A260 260 0 0 0 121 1448M121 1448A260 260 0 0 0 140 1523M140 1523A260 260 0 0 0 70 1624M70 1624A260 260 0 0 0 70 1697M70 1697A260 260 0 0 0 105 1773M105 1773A260 260 0 0 0 149 1837M149 1837A260 260 0 0 0 207 1888M207 1888A260 260 0 0 0 287 1915M182 1390A260 260 0 0 1 254 1352M481 1369A260 260 0 0 1 583 1605M540 1413A260 260 0 0 1 581 1680M333 1333A300 300 0 0 1 540 1413M121 1448A300 300 0 0 0 70 1697M182 1390A300 300 0 0 0 70 1624M557 1755A260 260 0 0 0 513 1649M557 1755A300 300 0 0 0 487 1793M575 1529A260 260 0 0 0 507 1483M254 1352A260 260 0 0 0 279 1422M204 1463A260 260 0 0 1 182 1390M204 1463A260 260 0 0 0 140 1523M581 1680A260 260 0 0 1 640 1760M487 1793A260 260 0 0 0 630 1745M513 1649A260 260 0 0 1 600 1830M583 1605A240 240 0 0 1 650 1700M70 1624A260 260 0 0 1 60 1560M121 1448A260 260 0 0 0 75 1520"/>
<path class="neg" d="M262 1840A320 320 0 0 1 282 1771M262 1840A320 320 0 0 0 399 1773M262 1840A320 320 0 0 1 340 1724M262 1840A320 320 0 0 0 195 1780M262 1840A320 320 0 0 1 339 1833M262 1840A320 320 0 0 0 477 1718M262 1840A320 320 0 0 1 487 1793M399 1773A320 320 0 0 1 195 1780M399 1773A320 320 0 0 0 282 1771M399 1773A320 320 0 0 1 229 1710M399 1773A320 320 0 0 0 148 1703M399 1773A320 320 0 0 1 487 1793M340 1724A320 320 0 0 0 195 1780M340 1724A320 320 0 0 1 105 1773M287 1915A320 320 0 0 1 399 1773M425 1842A320 320 0 0 0 487 1793M477 1718A320 320 0 0 0 282 1771M477 1718A320 320 0 0 1 195 1780M540 1413A300 300 0 0 1 507 1483M481 1369A300 300 0 0 1 507 1483M540 1413A260 260 0 0 1 575 1529M575 1529A300 300 0 0 0 499 1569M229 1710A320 320 0 0 1 339 1833M148 1703A320 320 0 0 0 339 1833M410 1691A320 320 0 0 1 262 1840"/>
</g>
<g class="nodes">
<g id="c01"><circle class="m" cx="333" cy="1333" r="11"/></g>
<g id="c02"><circle class="m" cx="254" cy="1352" r="11"/></g>
<g id="c03"><circle class="m" cx="481" cy="1369" r="7"/></g>
<g id="c04"><circle class="m" cx="182" cy="1390" r="15"/></g>
<g id="c05"><circle class="m" cx="540" cy="1413" r="8"/></g>
<g id="c06"><circle class="o" cx="371" cy="1403" r="21"/><text x="372" y="1408" font-size="14.5">TN</text></g>
<g id="c07"><circle class="o" cx="279" cy="1422" r="22"/><text x="279.5" y="1427" font-size="14">SOCD</text></g>
<g id="c08"><circle class="o" cx="437" cy="1443" r="22.5"/><text x="436" y="1448" font-size="14.5">TND</text></g>
<g id="c09"><circle class="m" cx="121" cy="1448" r="11"/></g>
<g id="c10"><circle class="o" cx="204" cy="1463" r="13.5"/></g>
<g id="c11"><circle class="o" cx="358" cy="1471" r="23.5"/><text x="359" y="1475" font-size="15">Org-Cd</text></g>
<g id="c12"><circle class="g" cx="507" cy="1483" r="20"/><text x="518" y="1489" font-size="14">Flavisolibacter</text></g>
<g id="c14"><circle class="m" cx="140" cy="1523" r="13.5"/></g>
<g id="c16"><circle class="m" cx="575" cy="1529" r="14"/></g>
<g id="c18"><circle class="m" cx="214" cy="1550" r="11"/></g>
<g id="c13"><circle class="g" cx="283" cy="1503" r="30"/></g>
<g id="c15"><circle class="g" cx="430" cy="1525" r="29"/></g>
<g id="c17"><circle class="g" cx="356" cy="1546" r="32"/></g>
<g id="c13l"><text x="295.5" y="1508" font-size="19">Flaviaesturariibacter</text></g>
<g id="c15l"><text x="443" y="1529" font-size="19">Aphelenchus</text></g>
<g id="c17l"><text x="367" y="1553" font-size="20.5">Rubellimicrobium</text></g>
<g id="c19"><circle class="o" cx="499" cy="1569" r="22"/><text x="501" y="1574" font-size="15">Ex-Cd</text></g>
<g id="c20"><circle class="m" cx="283" cy="1586" r="11"/></g>
<g id="c21"><circle class="m" cx="583" cy="1605" r="14"/></g>
<g id="c24"><circle class="m" cx="70" cy="1624" r="15"/></g>
<g id="c25"><circle class="m" cx="360" cy="1624" r="16"/></g>
<g id="c22"><circle class="t" cx="144" cy="1613" r="22"/><text x="147" y="1615" font-size="16">sucrase</text></g>
<g id="c26"><circle class="o" cx="210" cy="1636" r="21"/><text x="213.5" y="1640" font-size="16">Carb-Cd</text></g>
<g id="c23"><circle class="t" cx="432" cy="1618" r="32"/><text x="434.5" y="1620" font-size="21">urease</text></g>
<g id="c27"><circle class="m" cx="513" cy="1649" r="12"/></g>
<g id="c28"><circle class="m" cx="292" cy="1666" r="4"/></g>
<g id="c29"><circle class="g" cx="581" cy="1680" r="19"/></g>
<g id="c31"><circle class="m" cx="70" cy="1697" r="16"/></g>
<g id="c32"><circle class="m" cx="148" cy="1703" r="19"/></g>
<g id="c33"><circle class="m" cx="229" cy="1710" r="13"/></g>
<g id="c34"><circle class="m" cx="477" cy="1718" r="23"/></g>
<g id="c30"><circle class="g" cx="410" cy="1691" r="33"/><text x="419.5" y="1697" font-size="21.5">Verticillium</text></g>
<g id="c34l"><text x="488.6" y="1723" font-size="15">Dihydrouracil</text></g>
<g id="c35"><circle class="t" cx="340" cy="1724" r="30"/><text x="342" y="1732" font-size="19">ALP</text></g>
<g id="c36"><circle class="o" cx="557" cy="1755" r="5"/></g>
<g id="c37"><circle class="m" cx="105" cy="1773" r="19"/></g>
<g id="c41"><circle class="m" cx="487" cy="1793" r="23"/></g>
<g id="c40"><circle class="g" cx="195" cy="1780" r="32"/></g>
<g id="c38"><circle class="g" cx="282" cy="1771" r="32"/></g>
<g id="c39"><circle class="o" cx="399" cy="1773" r="32"/></g>
<g id="c38l"><text x="297" y="1773" font-size="20.5">Blastococcus</text></g>
<g id="c39l"><text x="402.5" y="1780" font-size="20">Ox-Cd</text></g>
<g id="c40l"><text x="199" y="1791" font-size="20.5">Nocardioides</text></g>
<g id="c41l"><text x="519" y="1798" font-size="15">4-Hydroxycinnamic acid</text></g>
<g id="c42"><circle class="g" cx="149" cy="1837" r="27"/><text x="151.6" y="1843" font-size="18">Cnuella</text></g>
<g id="c45"><circle class="g" cx="425" cy="1842" r="19.5"/></g>
<g id="c44"><circle class="g" cx="339" cy="1833" r="32"/></g>
<g id="c43"><circle class="o" cx="262" cy="1840" r="32"/></g>
<g id="c43l"><text x="264.7" y="1847" font-size="20.5">Res-Cd</text></g>
<g id="c44l"><text x="349" y="1833" font-size="20">Tricharina</text></g>
<g id="c46"><circle class="m" cx="510" cy="1879" r="9"/></g>
<g id="c47"><circle class="m" cx="207" cy="1888" r="19.5"/></g>
<g id="c48"><circle class="o" cx="287" cy="1915" r="28"/><text x="287.4" y="1922" font-size="19">C/N</text></g>
<g id="c49"><circle class="m" cx="360" cy="1915" r="19.5"/></g>
<g id="c50"><circle class="m" cx="434" cy="1913" r="17.5"/></g>
</g>
</g>
</svg>
